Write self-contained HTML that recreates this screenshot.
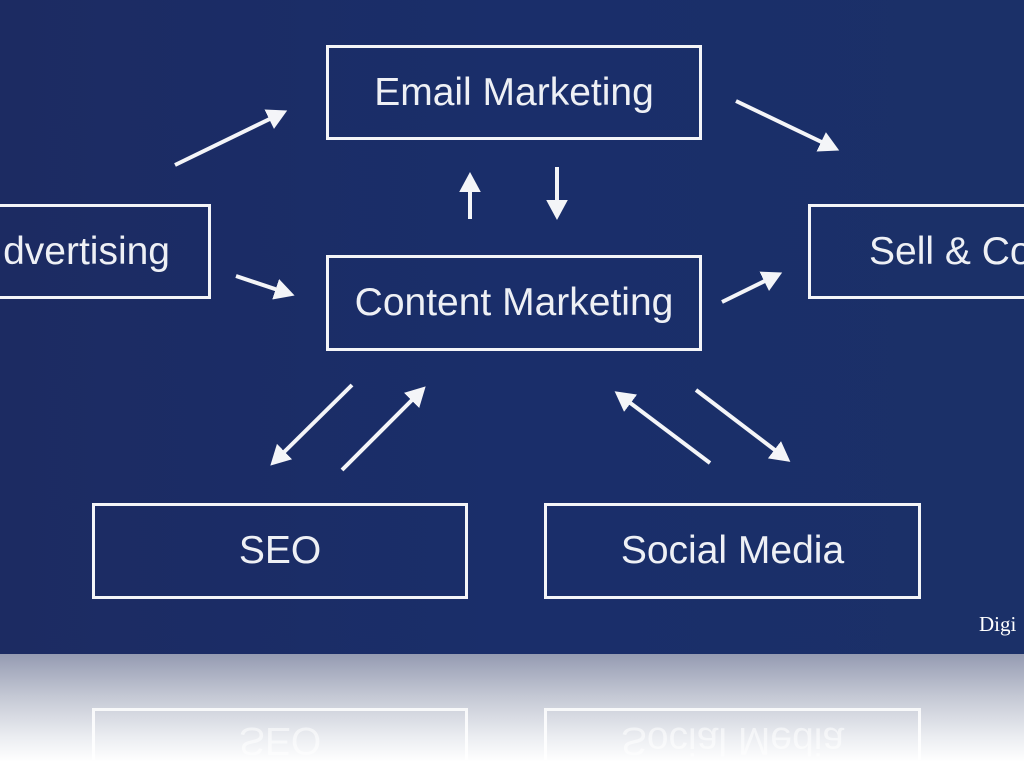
<!DOCTYPE html>
<html><head><meta charset="utf-8"><style>
html,body{margin:0;padding:0;width:1024px;height:774px;overflow:hidden;background:#fff;}
.slide{position:absolute;left:0;top:0;width:1024px;height:654px;background:linear-gradient(90deg,#1c2b62 0%,#1a2e6a 50%,#1b3068 100%);}
.refl{position:absolute;left:0;top:654px;width:1024px;height:120px;background:linear-gradient(#959bb2 0%,#c4c8d4 35%,#eceef2 70%,#fff 90%);}
.box{position:absolute;border:3px solid #f4f5f8;box-sizing:border-box;color:#eef0f5;font-family:"Liberation Sans",sans-serif;font-size:39px;display:flex;align-items:center;justify-content:center;white-space:nowrap;overflow:hidden;}
.rb{position:absolute;border:3px solid rgba(255,255,255,0.85);border-top:none;box-sizing:border-box;color:rgba(255,255,255,0.55);font-family:"Liberation Sans",sans-serif;font-size:39px;text-align:center;transform:scaleY(-1);overflow:hidden;}
</style></head><body>
<div class="slide"></div>
<div class="refl"></div>
<div class="box" style="left:326px;top:45px;width:376px;height:95px;">Email Marketing</div>
<div class="box" style="left:326px;top:255px;width:376px;height:96px;">Content Marketing</div>
<div class="box" style="left:-4px;top:204px;width:215px;height:95px;justify-content:flex-end;padding-right:38px;">dvertising</div>
<div class="box" style="left:808px;top:204px;width:240px;height:95px;justify-content:flex-start;padding-left:58px;">Sell &amp; Co</div>
<div class="box" style="left:92px;top:503px;width:376px;height:96px;">SEO</div>
<div class="box" style="left:544px;top:503px;width:377px;height:96px;">Social Media</div>
<div style="position:absolute;left:979px;top:612px;color:#fff;font-family:'Liberation Serif',serif;font-size:21px;">Digi</div>
<div class="rb" style="left:92px;top:708px;width:376px;height:52px;"><span style="position:relative;top:0px;display:block;line-height:40px">SEO</span></div>
<div class="rb" style="left:544px;top:708px;width:377px;height:52px;"><span style="position:relative;top:0px;display:block;line-height:40px">Social Media</span></div>
<svg width="1024" height="654" style="position:absolute;left:0;top:0">
<defs><marker id="a" markerWidth="6" markerHeight="6" refX="3" refY="3" orient="auto" markerUnits="strokeWidth"><path d="M0,0.3 L5,3 L0,5.7 Z" fill="#f4f5f8"/></marker></defs>
<g stroke="#f4f5f8" stroke-width="4" marker-end="url(#a)">
<line x1="175" y1="165" x2="280" y2="114"/>
<line x1="470" y1="219" x2="470" y2="180"/>
<line x1="557" y1="167" x2="557" y2="212"/>
<line x1="736" y1="101" x2="832" y2="147"/>
<line x1="236" y1="276" x2="287" y2="293"/>
<line x1="722" y1="302" x2="775" y2="276"/>
<line x1="352" y1="385" x2="276" y2="460"/>
<line x1="342" y1="470" x2="420" y2="392"/>
<line x1="710" y1="463" x2="621" y2="396"/>
<line x1="696" y1="390" x2="784" y2="457"/>
</g></svg>
</body></html>
